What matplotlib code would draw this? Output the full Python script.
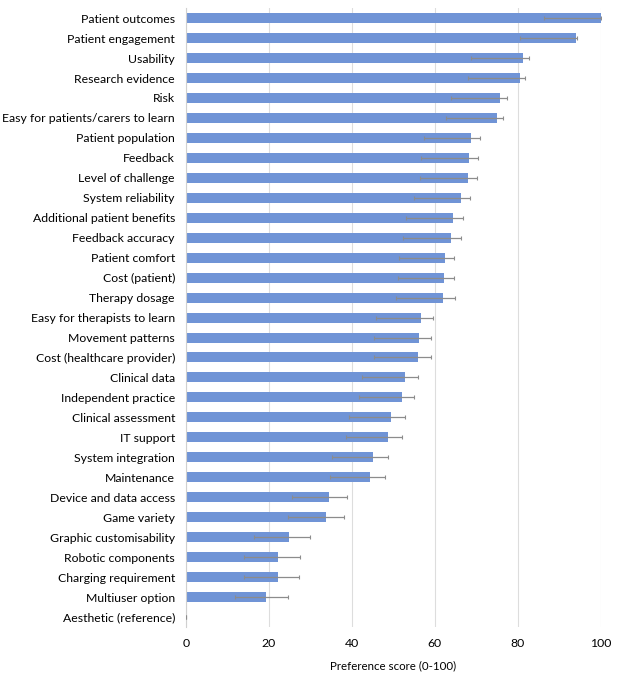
import matplotlib

matplotlib.use("Agg")
import matplotlib.pyplot as plt
import numpy as np

# ── Data, top to bottom ──
ATTRIBUTES = [
    "Patient outcomes", "Patient engagement", "Usability", "Research evidence",
    "Risk", "Easy for patients/carers to learn", "Patient population", "Feedback",
    "Level of challenge", "System reliability", "Additional patient benefits",
    "Feedback accuracy", "Patient comfort", "Cost (patient)", "Therapy dosage",
    "Easy for therapists to learn", "Movement patterns", "Cost (healthcare provider)",
    "Clinical data", "Independent practice", "Clinical assessment", "IT support",
    "System integration", "Maintenance", "Device and data access", "Game variety",
    "Graphic customisability", "Robotic components", "Charging requirement",
    "Multiuser option", "Aesthetic (reference)",
]
SCORES = [100, 94.0, 81.3, 80.5, 75.8, 74.9, 68.8, 68.3, 68.1, 66.3, 64.4, 63.8,
          62.4, 62.1, 62.0, 56.6, 56.1, 56.0, 52.9, 52.0, 49.4, 48.8, 45.0, 44.3,
          34.5, 33.7, 24.9, 22.2, 22.2, 19.4, 0]
LOWER = [86.3, 80.5, 68.8, 68.1, 63.9, 62.8, 57.3, 56.6, 56.5, 55.0, 53.0, 52.4,
         51.3, 51.0, 50.7, 45.9, 45.4, 45.3, 42.4, 41.8, 39.3, 38.6, 35.1, 34.7,
         25.5, 24.7, 16.5, 13.9, 14.1, 11.7, 0]
UPPER = [100, 94.3, 82.7, 81.8, 77.4, 76.5, 70.9, 70.4, 70.2, 68.6, 66.8, 66.3,
         64.7, 64.7, 64.8, 59.5, 59.1, 59.0, 56.0, 54.9, 52.8, 52.1, 48.8, 48.0,
         38.9, 38.1, 29.8, 27.6, 27.3, 24.6, 0]

BAR_COLOR = "#7094D6"


def main() -> None:
    plt.rcParams["font.family"] = ["Lato", "DejaVu Sans"]
    fig = plt.figure(figsize=(6.18, 6.8), dpi=100)
    ax = fig.add_axes([0.301, 0.078, 0.671, 0.91])

    scores = np.array(SCORES)
    y = np.arange(len(ATTRIBUTES))
    xerr = [scores - np.array(LOWER), np.array(UPPER) - scores]
    ax.barh(y, scores, height=0.5, color=BAR_COLOR, zorder=2)
    ax.errorbar(scores, y, xerr=xerr, fmt="none", ecolor="#8c8c8c",
                elinewidth=0.9, capsize=1.5, capthick=0.8, zorder=3)

    ax.set_yticks(y)
    ax.set_yticklabels(ATTRIBUTES, fontsize=8.8)
    ax.set_ylim(len(ATTRIBUTES) - 0.5, -0.5)
    ax.set_xlim(0, 100)
    ax.set_xticks(range(0, 101, 20))
    ax.tick_params(axis="x", labelsize=8.8, length=0, pad=8)
    ax.tick_params(axis="y", length=0, pad=8)
    ax.grid(True, axis="x", color="#dddddd", linewidth=0.8, zorder=0)
    for side in ("top", "right", "bottom"):
        ax.spines[side].set_visible(False)
    ax.spines["left"].set_color("#d0d0d0")

    ax.set_xlabel("Preference score (0-100)", fontsize=8.3, labelpad=8)
    ax.set_ylabel("Attributes", fontsize=8.8, labelpad=6)

    fig.savefig("out.png", dpi=100)
    plt.close(fig)


if __name__ == "__main__":
    main()
